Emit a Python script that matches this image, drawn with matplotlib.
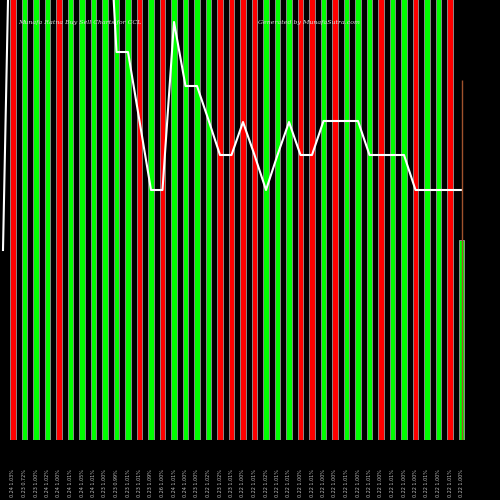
import matplotlib
matplotlib.use("Agg")
import matplotlib.pyplot as plt
import numpy as np

colors_code = list("RGGGRGGGGGGRGRGGGGRRR" + "RGGGRRGRGGGRGGRGGRG")
bar_heights = [1000]*39 + [200]
line_vals = [600]*9 + [388, 388, 319, 250, 250, 418, 354, 354, 320, 285, 285, 318,
             285, 250, 285, 318, 285, 285, 319, 319, 319, 319, 285, 285, 285, 285,
             250, 250, 250, 250, 250]
labels = ["0.24 1.03%", "0.23 0.72%", "0.23 1.00%", "0.24 1.02%", "0.24 1.00%",
          "0.24 1.01%", "0.24 1.05%", "0.24 1.01%", "0.23 1.00%", "0.23 0.99%",
          "0.23 1.01%", "0.23 1.01%", "0.23 1.09%", "0.26 1.00%", "0.24 1.01%",
          "0.24 1.00%", "0.23 1.00%", "0.22 1.02%", "0.23 1.02%", "0.23 1.01%",
          "0.22 1.00%", "0.22 1.01%", "0.22 1.02%", "0.22 1.01%", "0.22 1.01%",
          "0.22 1.00%", "0.22 1.01%", "0.22 1.00%", "0.22 1.00%", "0.22 1.01%",
          "0.22 1.00%", "0.22 1.01%", "0.22 1.00%", "0.22 1.01%", "0.22 1.00%",
          "0.22 1.00%", "0.22 1.01%", "0.22 1.00%", "0.22 1.01%", "0.22 1.00%"]

n = len(colors_code)
x = 13 + np.arange(n) * 11.5
cmap = {"R": "#ff0000", "G": "#00ff00"}

fig = plt.figure(figsize=(5, 5), dpi=100, facecolor="black")
ax = fig.add_axes([0, 0.12, 1, 0.88])
ax.set_facecolor("black")
ax.set_xlim(0, 500)
ax.set_ylim(0, 440)
ax.bar(x, bar_heights, width=5.5, color=[cmap[c] for c in colors_code],
       edgecolor="#999999", linewidth=0.6)
ax.plot(x, line_vals, color="white", lw=1.5)
ax.plot([3, 8], [190, 440], color="white", lw=1.5)
ax.vlines(x[-1], 0, 360, color="#a0522d", lw=1)
for s in ax.spines.values():
    s.set_visible(False)
ax.set_xticks([]); ax.set_yticks([])
ax.text(18, 416, "Munafa Ratna Buy Sell Charts for CCL", color="#dddddd",
        fontsize=4.5, family="serif", style="italic")
ax.text(258, 416, "Generated by MunafaSutra.com", color="#dddddd",
        fontsize=4.5, family="serif", style="italic")
for xi, lab in zip(x, labels):
    fig.text(xi / 500, 0.006, lab, rotation=90, color="#bbbbbb", fontsize=3.5,
             ha="center", va="bottom")
fig.savefig("out.png", facecolor="black")
